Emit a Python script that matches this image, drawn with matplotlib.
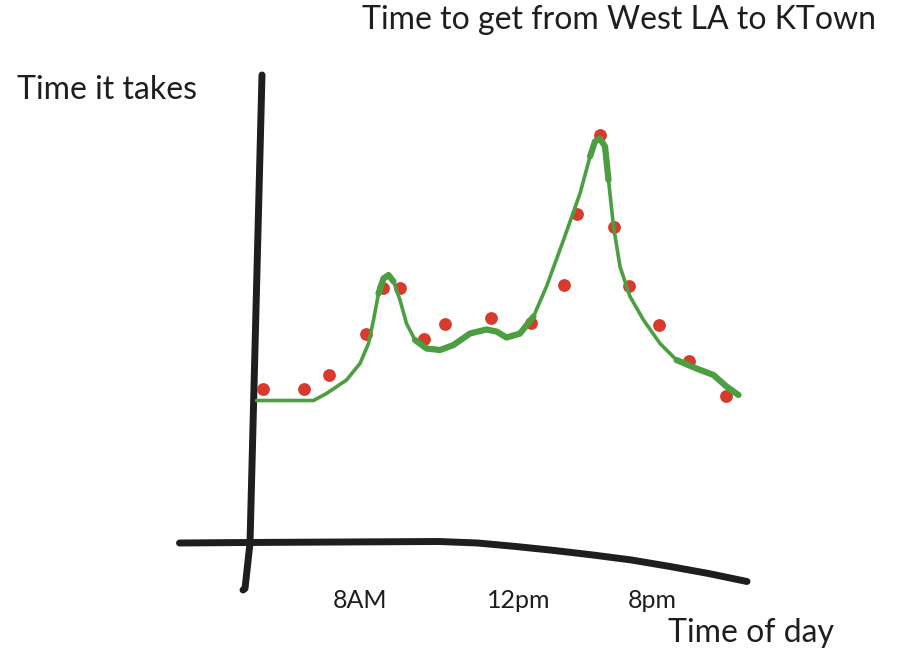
import matplotlib.pyplot as plt
import numpy as np

plt.rcParams['font.family'] = ['Lato', 'DejaVu Sans']

# measured trips (red dots): x = position along time-of-day axis, y = travel time
dot_x = [2.5, 10.8, 15.7, 23.2, 26.5, 29.9, 34.7, 39.0, 48.1, 56.2,
         62.7, 65.3, 70.0, 72.7, 75.8, 81.8, 87.8, 95.2]
dot_y = [30.9, 30.8, 33.6, 41.9, 51.1, 51.1, 40.8, 43.9, 45.1, 44.1,
         51.7, 65.8, 81.6, 63.3, 51.4, 43.7, 36.4, 29.4]

# hand drawn trend (green line)
trend_x = [1.3, 12.7, 15.3, 19.3, 22.0, 23.7, 24.7, 25.7, 26.7, 27.7,
           28.7, 30.0, 31.3, 33.0, 35.3, 38.0, 40.7, 44.0, 47.3, 49.3,
           51.3, 54.0, 56.7, 59.3, 62.7, 66.0, 68.0, 69.0, 70.0, 71.0,
           71.7, 72.7, 74.0, 76.0, 78.7, 82.0, 85.3, 89.3, 92.7, 95.3, 97.7]
trend_y = [28.5, 28.5, 29.9, 32.6, 35.9, 39.9, 44.6, 49.9, 52.9, 53.6,
           52.3, 48.6, 43.9, 40.6, 38.9, 38.6, 39.6, 41.9, 42.7, 42.3,
           41.1, 41.9, 45.3, 51.3, 60.6, 69.9, 77.3, 80.3, 80.9, 79.3,
           72.6, 63.3, 55.3, 49.3, 44.6, 39.9, 36.6, 34.9, 33.6, 31.3, 29.6]

# sketched axes
yaxis_x = [2.4, 0.0, -1.0, -1.4]
yaxis_y = [93.6, 0.0, -9.1, -9.4]
xaxis_x = [-14.1, -0.6, 37.8, 45.5, 53.2, 60.9, 68.6, 76.3, 84.0, 91.7, 99.4]
xaxis_y = [0.0, 0.1, 0.3, 0.0, -0.7, -1.5, -2.4, -3.4, -4.7, -6.1, -7.7]

tick_pos = [22.0, 53.8, 80.4]
tick_labels = ['8AM', '12pm', '8pm']

ink = '#1e1e1e'
green = '#4c9f41'
red = '#d83a2e'

fig = plt.figure(figsize=(9.01, 6.53), dpi=100)
ax = fig.add_axes([0, 0, 1, 1])
ax.set_xlim(-50, 130.2)
ax.set_ylim(-22, 108.6)
ax.axis('off')

ax.plot(yaxis_x, yaxis_y, color=ink, lw=5, solid_capstyle='round', solid_joinstyle='round')
ax.plot(xaxis_x, xaxis_y, color=ink, lw=5, solid_capstyle='round', solid_joinstyle='round')

ax.scatter(dot_x, dot_y, s=85, color=red, zorder=3, linewidths=0)
ax.plot(trend_x, trend_y, color=green, lw=2.6, solid_capstyle='round',
        solid_joinstyle='round', zorder=4)
# the pen went over a few stretches twice
tx = np.array(trend_x)
ty = np.array(trend_y)
for lo, hi in [(33.0, 56.7), (25.7, 28.7), (68.0, 71.7), (85.3, 97.7)]:
    m = (tx >= lo) & (tx <= hi)
    ax.plot(tx[m], ty[m], color=green, lw=4.5, solid_capstyle='round',
            solid_joinstyle='round', zorder=4)

for p, lab in zip(tick_pos, tick_labels):
    ax.text(p, -11.4, lab, ha='center', va='center', fontsize=18, color=ink)

fig.text(362 / 901, 1 - 20 / 653, 'Time to get from West LA to KTown',
         ha='left', va='center', fontsize=23, color=ink)
fig.text(17 / 901, 1 - 90 / 653, 'Time it takes',
         ha='left', va='center', fontsize=23, color=ink)
fig.text(668 / 901, 1 - 633 / 653, 'Time of day',
         ha='left', va='center', fontsize=23, color=ink)

fig.savefig('out.png', dpi=100, facecolor='white')
